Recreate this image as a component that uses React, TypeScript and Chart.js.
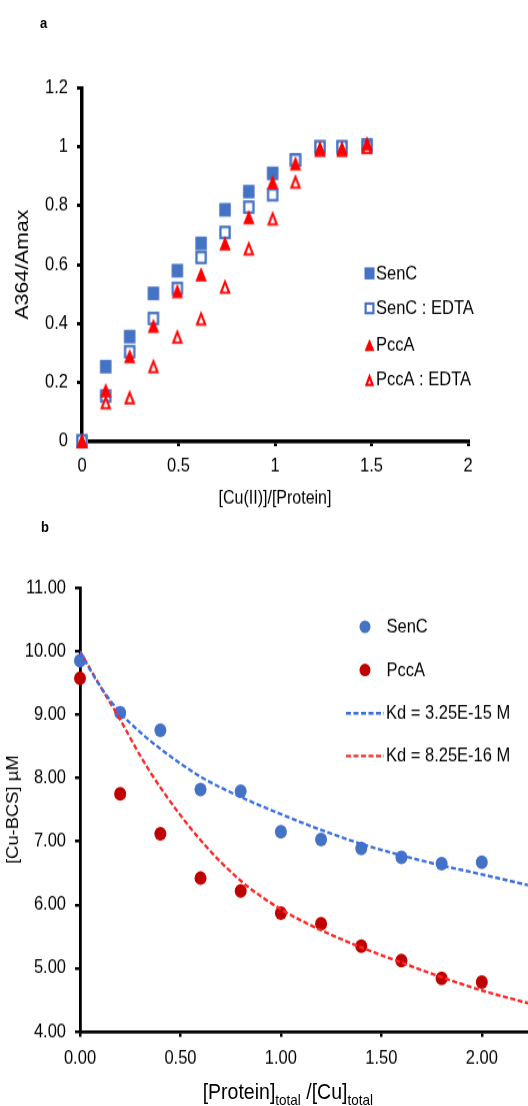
import React, { useEffect, useRef } from 'react';
import { Chart, registerables } from 'chart.js';

Chart.register(...registerables);

// ---------- data: panel a ----------
const ratioA = [0, 0.123, 0.247, 0.37, 0.494, 0.617, 0.741, 0.864, 0.988, 1.106, 1.233, 1.347, 1.477];
const senC = [0, 0.253, 0.355, 0.502, 0.579, 0.672, 0.786, 0.848, 0.91, 0.956, 1.0, 1.0, 1.007];
const senCEdta = [0, 0.153, 0.304, 0.417, 0.519, 0.624, 0.709, 0.795, 0.837, 0.955, 1.0, 1.0, 1.0];
const pccA = [0, 0.173, 0.289, 0.392, 0.51, 0.567, 0.672, 0.761, 0.88, 0.944, 0.996, 0.996, 1.012];
const pccAEdta = [0, 0.132, 0.149, 0.255, 0.355, 0.417, 0.525, 0.655, 0.757, 0.882, 0.99, 0.99, 1.0];
const legendLabelsA = ['SenC', 'SenC : EDTA', 'PccA', 'PccA : EDTA'];

// ---------- data: panel b ----------
const ratioB = [0, 0.2, 0.4, 0.6, 0.8, 1.0, 1.2, 1.4, 1.6, 1.8, 2.0];
const senCB = [9.85, 9.03, 8.75, 7.82, 7.79, 7.15, 7.03, 6.89, 6.75, 6.65, 6.67];
const pccAB = [9.57, 7.75, 7.12, 6.42, 6.22, 5.87, 5.7, 5.35, 5.12, 4.84, 4.78];
const fitX = [0, 0.1, 0.2, 0.3, 0.4, 0.6, 0.8, 1.0, 1.2, 1.4, 1.6, 1.8, 2.0, 2.23];
const fitSenC = [9.98, 9.45, 9.03, 8.72, 8.46, 8.02, 7.7, 7.43, 7.18, 6.96, 6.78, 6.62, 6.48, 6.31];
const fitPccA = [10.0, 9.45, 8.92, 8.35, 7.85, 7.02, 6.38, 5.93, 5.6, 5.33, 5.09, 4.86, 4.65, 4.45];
const legendLabelsB = ['SenC', 'PccA', 'Kd = 3.25E-15 M', 'Kd = 8.25E-16 M'];

// ---------- style / layout ----------
const S = 1.15; // vertical stretch of the whole figure
const FONT = "'Liberation Sans', Arial, Helvetica, sans-serif";
const BLUE = '#4472C4';
const RED = '#FF0000';
const DARKRED = '#C00000';
const FIT_BLUE = '#3D6FE3';
const FIT_RED = '#FF2626';
const TXT = '#000';

const W = 528;
const HA = 444;
const A_TOP = 76.5, A_BOTTOM = 383.5, A_LEFT = 82, A_RIGHT = 468;
const B_OFFSET = 452;
const HB = 509;
const B_TOP = 59, B_BOTTOM = 445.1, B_LEFT = 80;

type Kind = 'sq' | 'osq' | 'tri' | 'otri';

function drawShape(ctx: CanvasRenderingContext2D, kind: Kind, cx: number, cy: number, w: number, h: number, color: string, lw: number) {
  ctx.save();
  if (kind === 'sq') {
    ctx.fillStyle = color;
    ctx.fillRect(cx - w / 2, cy - h / 2, w, h);
  } else if (kind === 'osq') {
    ctx.fillStyle = '#fff';
    ctx.fillRect(cx - w / 2, cy - h / 2, w, h);
    ctx.strokeStyle = color;
    ctx.lineWidth = lw;
    ctx.strokeRect(cx - w / 2 + lw / 2, cy - h / 2 + lw / 2, w - lw, h - lw);
  } else if (kind === 'tri') {
    ctx.fillStyle = color;
    ctx.beginPath();
    ctx.moveTo(cx, cy - h / 2);
    ctx.lineTo(cx + w / 2, cy + h / 2);
    ctx.lineTo(cx - w / 2, cy + h / 2);
    ctx.closePath();
    ctx.fill();
  } else {
    ctx.beginPath();
    ctx.moveTo(cx, cy - h / 2 + lw);
    ctx.lineTo(cx + w / 2 - lw * 0.9, cy + h / 2 - lw / 2);
    ctx.lineTo(cx - w / 2 + lw * 0.9, cy + h / 2 - lw / 2);
    ctx.closePath();
    ctx.fillStyle = '#fff';
    ctx.fill();
    ctx.strokeStyle = color;
    ctx.lineWidth = lw;
    ctx.lineJoin = 'miter';
    ctx.stroke();
  }
  ctx.restore();
}

function makeMarker(kind: Kind, color: string, w: number, h: number, lw: number) {
  const c = document.createElement('canvas');
  c.width = Math.ceil(w) + 4;
  c.height = Math.ceil(h) + 4;
  const ctx = c.getContext('2d')!;
  drawShape(ctx, kind, c.width / 2, c.height / 2, w, h, color, lw);
  return c;
}

const xy = (xs: number[], ys: number[]) => xs.map((x, i) => ({ x, y: ys[i] }));
const plainTick = (v: any) => String(Math.round(Number(v) * 100) / 100);

const tickFont = { family: FONT, size: 16.5 };

export default function App() {
  const refA = useRef<HTMLCanvasElement>(null);
  const refB = useRef<HTMLCanvasElement>(null);

  useEffect(() => {
    document.documentElement.style.overflow = 'hidden';
    Chart.defaults.font.family = FONT;

    const mSq = makeMarker('sq', BLUE, 11.5, 11.8, 0);
    const mOsq = makeMarker('osq', BLUE, 11.5, 11.8, 2.3);
    const mTri = makeMarker('tri', RED, 11.5, 12.3, 0);
    const mOtri = makeMarker('otri', RED, 12, 12.6, 2.1);

    const legendA = {
      id: 'legendA',
      afterDraw(chart: any) {
        const ctx: CanvasRenderingContext2D = chart.ctx;
        const kinds: Kind[] = ['sq', 'osq', 'tri', 'otri'];
        const colors = [BLUE, BLUE, RED, RED];
        const ys = [237.7, 268.1, 300, 330.4];
        ctx.save();
        ctx.font = `16.5px ${FONT}`;
        ctx.textBaseline = 'middle';
        ctx.textAlign = 'left';
        legendLabelsA.forEach((label, i) => {
          drawShape(ctx, kinds[i], 369.5, ys[i], 10, 10.5, colors[i], 2.2);
          ctx.fillStyle = TXT;
          ctx.fillText(label, 376, ys[i] + 0.5);
        });
        ctx.restore();
      },
    };

    const legendB = {
      id: 'legendB',
      afterDraw(chart: any) {
        const ctx: CanvasRenderingContext2D = chart.ctx;
        const ys = [93, 130.6, 168.3, 205.4];
        ctx.save();
        ctx.font = `16.5px ${FONT}`;
        ctx.textBaseline = 'middle';
        ctx.textAlign = 'left';
        [BLUE, DARKRED].forEach((c, i) => {
          ctx.fillStyle = c;
          ctx.beginPath();
          ctx.arc(365, ys[i], 5.5, 0, Math.PI * 2);
          ctx.fill();
        });
        [FIT_BLUE, FIT_RED].forEach((c, i) => {
          ctx.strokeStyle = c;
          ctx.lineWidth = 2.4;
          ctx.setLineDash([5, 2.5]);
          ctx.beginPath();
          ctx.moveTo(346, ys[i + 2]);
          ctx.lineTo(384, ys[i + 2]);
          ctx.stroke();
        });
        ctx.setLineDash([]);
        ctx.fillStyle = TXT;
        legendLabelsB.forEach((label, i) => {
          ctx.fillText(label, i < 2 ? 386.5 : 386, ys[i] + 0.5);
        });
        ctx.restore();
      },
    };

    const chartA = new Chart(refA.current!, {
      type: 'scatter',
      data: {
        datasets: [
          { label: legendLabelsA[0], data: xy(ratioA, senC), pointStyle: mSq as any, pointRadius: 6, order: 3, clip: false as any },
          { label: legendLabelsA[1], data: xy(ratioA, senCEdta), pointStyle: mOsq as any, pointRadius: 6, order: 2, clip: false as any },
          { label: legendLabelsA[3], data: xy(ratioA, pccAEdta), pointStyle: mOtri as any, pointRadius: 6, order: 1, clip: false as any },
          { label: legendLabelsA[2], data: xy(ratioA, pccA), pointStyle: mTri as any, pointRadius: 6, order: 0, clip: false as any },
        ],
      },
      options: {
        responsive: false,
        animation: false,
        devicePixelRatio: 1,
        layout: { autoPadding: false, padding: { top: A_TOP, right: W - A_RIGHT, bottom: 0, left: 0 } },
        plugins: { legend: { display: false }, tooltip: { enabled: false } },
        scales: {
          x: {
            type: 'linear',
            min: 0,
            max: 2,
            ticks: { stepSize: 0.5, font: tickFont, color: TXT, padding: 7.1, callback: plainTick },
            grid: { drawOnChartArea: false, drawTicks: true, tickLength: 4.5, color: '#000', lineWidth: 3 },
            border: { display: true, color: '#000', width: 3.5 },
            title: { display: true, text: '[Cu(II)]/[Protein]', color: TXT, font: { family: FONT, size: 16 }, padding: { top: 0, bottom: 0.5 } },
            afterFit: (s: any) => { s.height = HA - A_BOTTOM; s.paddingLeft = 0; s.paddingRight = 0; },
          },
          y: {
            type: 'linear',
            min: 0,
            max: 1.2,
            ticks: { stepSize: 0.2, font: tickFont, color: TXT, padding: 9, callback: plainTick },
            grid: { drawOnChartArea: false, drawTicks: true, tickLength: 5, color: '#000', lineWidth: 3 },
            border: { display: true, color: '#000', width: 3.5 },
            title: { display: true, text: 'A364/Amax', color: TXT, font: { family: FONT, size: 18.5 }, padding: { top: 12.2, bottom: 0 } },
            afterFit: (s: any) => { s.width = A_LEFT; s.paddingTop = 0; s.paddingBottom = 0; },
          },
        },
      } as any,
      plugins: [legendA],
    });

    const chartB = new Chart(refB.current!, {
      type: 'scatter',
      data: {
        datasets: [
          { label: legendLabelsB[2], data: xy(fitX, fitSenC), showLine: true, pointRadius: 0, borderColor: FIT_BLUE, borderWidth: 2.4, borderDash: [5, 2.5], cubicInterpolationMode: 'monotone', order: 0 } as any,
          { label: legendLabelsB[3], data: xy(fitX, fitPccA), showLine: true, pointRadius: 0, borderColor: FIT_RED, borderWidth: 2.4, borderDash: [5, 2.5], cubicInterpolationMode: 'monotone', order: 1 } as any,
          { label: legendLabelsB[0], data: xy(ratioB, senCB), pointStyle: 'circle', pointRadius: 6, backgroundColor: BLUE, borderWidth: 0, order: 2, clip: false as any },
          { label: legendLabelsB[1], data: xy(ratioB, pccAB), pointStyle: 'circle', pointRadius: 6, backgroundColor: DARKRED, borderWidth: 0, order: 3, clip: false as any },
        ],
      },
      options: {
        responsive: false,
        animation: false,
        devicePixelRatio: 1,
        layout: { autoPadding: false, padding: { top: B_TOP, right: 0, bottom: 0, left: 0 } },
        plugins: { legend: { display: false }, tooltip: { enabled: false } },
        scales: {
          x: {
            type: 'linear',
            min: 0,
            max: 2.23,
            ticks: { stepSize: 0.5, includeBounds: false, font: tickFont, color: TXT, padding: 9.4, callback: (v: any) => Number(v).toFixed(2) },
            grid: { drawOnChartArea: false, drawTicks: true, tickLength: 4.5, color: '#000', lineWidth: 2.5 },
            border: { display: true, color: '#000', width: 2.8 },
            title: { display: false },
            afterFit: (s: any) => { s.height = HB - B_BOTTOM; s.paddingLeft = 0; s.paddingRight = 0; },
          },
          y: {
            type: 'linear',
            min: 4,
            max: 11,
            ticks: { stepSize: 1, font: tickFont, color: TXT, padding: 9, callback: (v: any) => Number(v).toFixed(2) },
            grid: { drawOnChartArea: false, drawTicks: true, tickLength: 5, color: '#000', lineWidth: 2.5 },
            border: { display: true, color: '#000', width: 2.8 },
            title: { display: true, text: '[Cu-BCS] µM', color: TXT, font: { family: FONT, size: 16 }, padding: { top: 4.2, bottom: 0 } },
            afterFit: (s: any) => { s.width = B_LEFT; s.paddingTop = 0; s.paddingBottom = 0; },
          },
        },
      } as any,
      plugins: [legendB],
    });

    return () => {
      chartA.destroy();
      chartB.destroy();
    };
  }, []);

  return (
    <div
      style={{
        position: 'absolute',
        left: 0,
        top: 0,
        width: W,
        height: 1106 / S,
        transform: `scaleY(${S})`,
        transformOrigin: '0 0',
        fontFamily: FONT,
        color: TXT,
        background: '#fff',
      }}
    >
      <canvas ref={refA} width={W} height={HA} style={{ position: 'absolute', left: 0, top: 0, width: W, height: HA }} />
      <canvas ref={refB} width={W} height={HB} style={{ position: 'absolute', left: 0, top: B_OFFSET, width: W, height: HB }} />
      <div style={{ position: 'absolute', left: 40, top: 22.5 / S - 8, fontSize: 13, lineHeight: '16px', fontWeight: 'bold' }}>a</div>
      <div style={{ position: 'absolute', left: 41, top: 527.5 / S - 8, fontSize: 13, lineHeight: '16px', fontWeight: 'bold' }}>b</div>
      <div style={{ position: 'absolute', left: 202.7, top: 1091.7 / S - 11, fontSize: 19.5, lineHeight: '22px', whiteSpace: 'nowrap' }}>
        [Protein]<span style={{ fontSize: 13.5, position: 'relative', top: 5 }}>total</span> /[Cu]<span style={{ fontSize: 13.5, position: 'relative', top: 5 }}>total</span>
      </div>
    </div>
  );
}
